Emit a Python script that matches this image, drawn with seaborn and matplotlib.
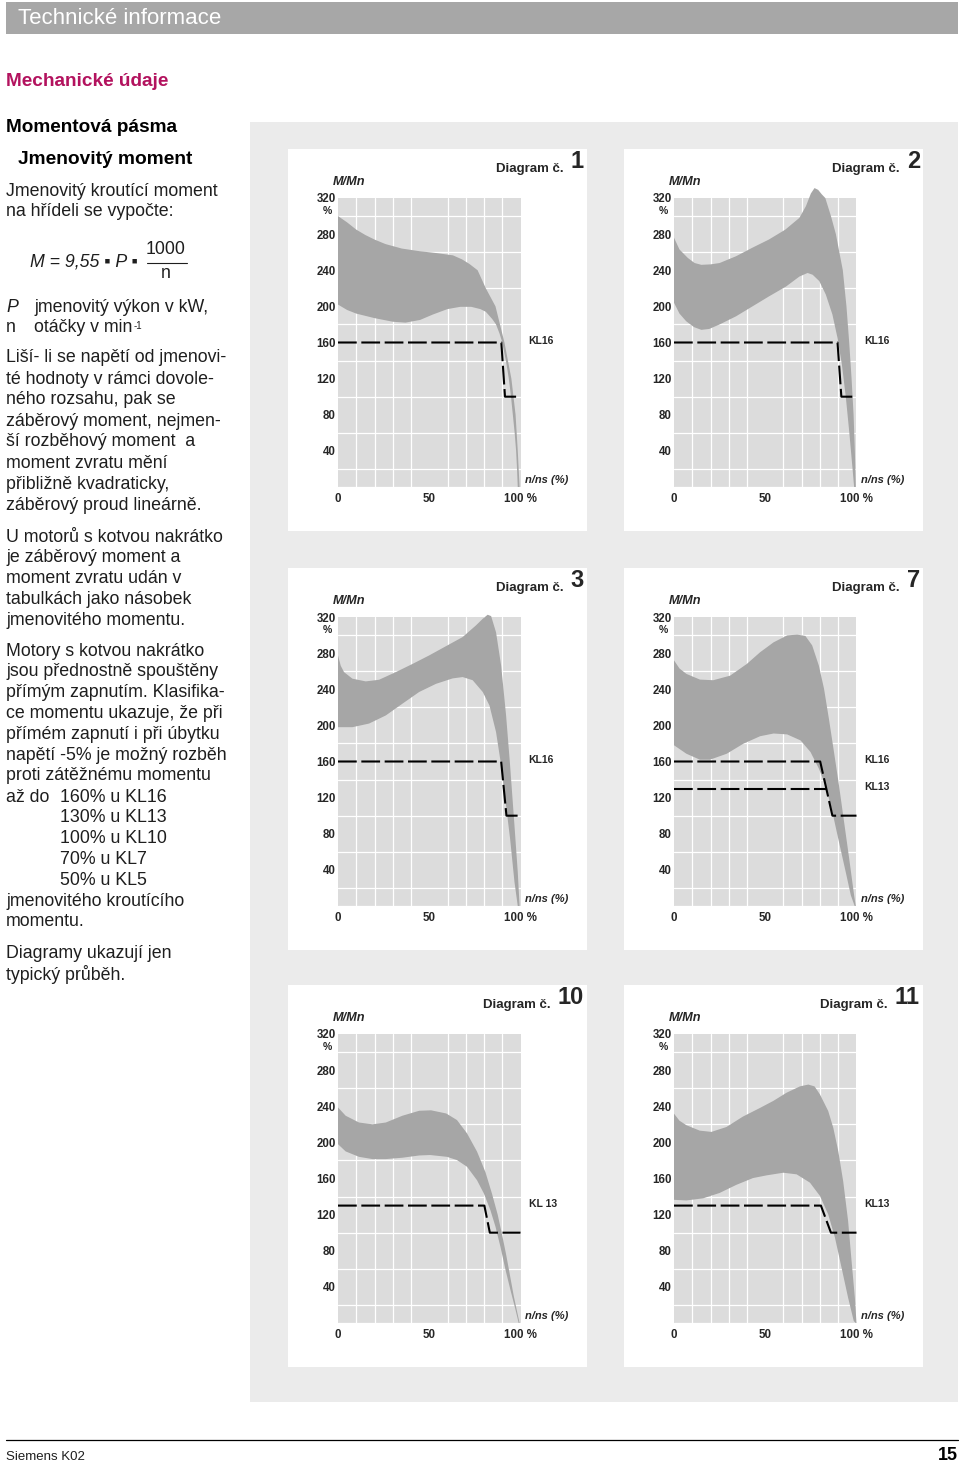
import numpy as np
import pandas as pd
import seaborn as sns
import matplotlib.pyplot as plt
from matplotlib.patches import Rectangle
from matplotlib.text import Annotation

sns.set_style('white')
plt.rcParams['font.family'] = ['Liberation Sans', 'DejaVu Sans']

# --- data (x = n/ns in %, y = M/Mn in %) ---
d1_up_x = [0, 5, 10, 15, 20, 26, 35, 45, 54, 63, 68, 72, 76.5, 81, 86.3, 91.2, 95, 97.3, 98.5, 99.5]
d1_up_y = [300, 293, 285, 279, 274, 269, 264, 261, 259, 256.5, 252, 247, 240, 220, 200, 160, 120, 80, 40, 0]
d1_lo_x = [0, 5, 10, 20, 30, 37, 45, 52, 60, 67, 73, 78, 81, 84.5, 86.6, 88.5, 90, 92, 93.6, 94.8, 95.8, 96.8, 97.6, 98.1, 98.5]
d1_lo_y = [202, 196, 192, 187, 183, 182, 185, 191, 197, 199.5, 199.5, 197, 194, 186, 180, 170, 160, 140, 120, 100, 80, 60, 40, 20, 0]

d2_up_x = [0, 3, 7.6, 11.3, 15, 20, 25, 34, 43, 52, 61, 68.7, 72.3, 75, 77, 79, 81, 82.9, 86, 88.7, 92.5, 94.5, 96, 97.3, 98.4, 99.1, 99.6]
d2_up_y = [276, 263, 253.6, 248, 246, 246.5, 248, 255.5, 265, 274, 285, 298, 311, 325, 331, 329, 324, 320, 300, 280, 240, 200, 160, 120, 80, 40, 0]
d2_lo_x = [0, 3, 6.7, 11, 15, 19.3, 25, 34, 43, 52, 61.4, 68.7, 73.2, 76, 79.6, 83.2, 86.8, 89.6, 92, 94.2, 96, 97.8, 98.7]
d2_lo_y = [204, 192, 183.5, 177, 174, 175, 180, 189, 200, 211, 222, 233, 237, 235, 228, 213, 191, 165, 135.5, 98.6, 61.6, 21, 0]

d3_up_x = [0, 1.5, 3.3, 7.9, 15.2, 22.5, 31.7, 40.8, 50, 59, 68.3, 75.6, 79.3, 82, 83.9, 86.6, 89.4, 92.1, 94.3, 96.7, 98.5, 99.5]
d3_up_y = [277.5, 266, 259, 251.7, 248.7, 250.5, 259, 268, 277.5, 287.5, 297.8, 310.7, 318, 322.5, 321, 303, 266, 211, 155.7, 89, 37.6, 0]
d3_lo_x = [0, 7.9, 17, 26.2, 35.3, 44.5, 53.7, 62.8, 68.3, 73.8, 79.3, 83, 86.6, 89.4, 92.1, 94.3, 96.7, 98.5]
d3_lo_y = [198, 198, 202, 211, 224, 237, 246, 252, 253.5, 250, 237, 222, 192.6, 155.7, 111, 74.5, 26.6, 0]

d7_up_x = [0, 3, 6.8, 14.2, 21.5, 30.7, 39.9, 47.2, 54.6, 62, 67.5, 72, 75.7, 79.4, 82.2, 84.9, 87.7, 90.4, 93.2, 96, 98.7, 99.6]
d7_up_y = [272, 263, 257, 250.7, 250, 255, 268, 281, 292, 299.6, 300.5, 299, 288.6, 266, 240.6, 207, 170, 133.6, 93, 52.4, 11.8, 0]
d7_lo_x = [0, 6.8, 14.2, 19.7, 28.9, 38, 47.2, 54.6, 62, 69.3, 74.8, 79.4, 83, 86.8, 90.4, 94.1, 96.9, 99]
d7_lo_y = [178, 168.6, 162, 162, 168.6, 179.7, 188, 191, 190, 183.4, 170.5, 152, 133.6, 104, 70.8, 37.6, 11.8, 0]

d10_up_x = [0, 4.2, 11.5, 18.9, 26.2, 35.3, 44.5, 51, 59.3, 65.2, 70.7, 76.2, 80.8, 84.4, 87.5, 90, 92.2, 94.3, 96.3, 98.2, 99.5]
d10_up_y = [238.7, 229.5, 222, 220, 222, 229.5, 235, 235.5, 232, 224.7, 210, 189.7, 167, 143, 120, 97, 75, 52, 30, 12, 0]
d10_lo_x = [0, 4.2, 11.5, 18.9, 26.2, 35.3, 44.5, 50.5, 59.7, 65.2, 70.7, 76.2, 79.9, 83.5, 86.3, 89, 91.8, 94.5, 97.3, 99]
d10_lo_y = [198, 190, 184, 181.5, 181.5, 183, 185.5, 186, 184, 180.4, 173, 158, 143.5, 125, 106.6, 84.5, 58.7, 36.5, 14.4, 0]

d11_up_x = [0, 3, 6.8, 14.1, 20.5, 28.7, 37.8, 47, 54.5, 61.7, 69, 73.6, 77, 80, 84.5, 87.3, 90, 92.7, 95.4, 97.3, 99.1, 100]
d11_up_y = [231.8, 224, 219, 213, 211.6, 217, 228.6, 238, 246, 255, 262, 264, 262, 253, 234.7, 216, 190.4, 157, 113, 68.6, 28, 0]
d11_lo_x = [0, 6.8, 15.9, 25, 34.2, 43.3, 50.8, 59.9, 67.2, 74.5, 80, 84.5, 88.2, 91.8, 95.4, 98.5, 99.6]
d11_lo_y = [136.4, 135.7, 138, 144, 153, 160.5, 163.5, 166.4, 164.6, 155.4, 140.6, 120.3, 94.5, 61.3, 28, 2.2, 0]

# torque class limits (dashed lines)
d1_kl16_x = [0, 89.5, 91.5, 100]
d2_kl16_x = [0, 89.6, 91.7, 100]
d3_kl16_x = [0, 89.4, 92.3, 100]
d7_kl16_x = [0, 80.1, 86.8, 100]
kl16_y = [160, 160, 100, 100]
d7_kl13_x = [0, 83.4]
d7_kl13_y = [130, 130]
d10_kl13_x = [0, 80.2, 83.2, 100]
d11_kl13_x = [0, 80.5, 86, 100]
kl13_y = [130, 130, 100, 100]

y_ticks = [40, 80, 120, 160, 200, 240, 280, 320]
y_labels = ['40', '80', '120', '160', '200', '240', '280', '320']
x_ticks = [0, 50, 100]
x_labels = ['0', '50', '100 %']

diagrams = [
    ('1', d1_up_x, d1_up_y, d1_lo_x, d1_lo_y, [('KL16', d1_kl16_x, kl16_y)]),
    ('2', d2_up_x, d2_up_y, d2_lo_x, d2_lo_y, [('KL16', d2_kl16_x, kl16_y)]),
    ('3', d3_up_x, d3_up_y, d3_lo_x, d3_lo_y, [('KL16', d3_kl16_x, kl16_y)]),
    ('7', d7_up_x, d7_up_y, d7_lo_x, d7_lo_y, [('KL16', d7_kl16_x, kl16_y), ('KL13', d7_kl13_x, d7_kl13_y)]),
    ('10', d10_up_x, d10_up_y, d10_lo_x, d10_lo_y, [('KL 13', d10_kl13_x, kl13_y)]),
    ('11', d11_up_x, d11_up_y, d11_lo_x, d11_lo_y, [('KL13', d11_kl13_x, kl13_y)]),
]

# --- page ---
W, H = 960, 1465
fig = plt.figure(figsize=(W / 100, H / 100), dpi=100)
TXT = '#1e1e1e'


def box(x0, y0, x1, y1, color):
    fig.add_artist(Rectangle((x0 / W, 1 - y1 / H), (x1 - x0) / W, (y1 - y0) / H,
                             transform=fig.transFigure, color=color, lw=0, zorder=-2))


def put(x, y, s, **kw):
    kw.setdefault('va', 'center')
    kw.setdefault('color', TXT)
    return fig.text(x / W, 1 - y / H, s, **kw)


box(6, 2, 958, 34, '#a7a7a7')
put(18, 18, 'Technické informace', fontsize=16, color='white')
put(6, 81, 'Mechanické údaje', fontsize=13.7, fontweight='bold', color='#b3125e')
put(6, 128, 'Momentová pásma', fontsize=13.7, fontweight='bold', color='black')
put(18, 160, 'Jmenovitý moment', fontsize=13.8, fontweight='bold', color='black')

fs = 12.8
lines1 = ['Jmenovitý kroutící moment', 'na hřídeli se vypočte:']
lines2 = ['Liší- li se napětí od jmenovi-', 'té hodnoty v rámci dovole-', 'ného rozsahu, pak se',
          'záběrový moment, nejmen-', 'ší rozběhový moment  a', 'moment zvratu mění',
          'přibližně kvadraticky,', 'záběrový proud lineárně.']
lines3 = ['U motorů s kotvou nakrátko', 'je záběrový moment a', 'moment zvratu udán v',
          'tabulkách jako násobek', 'jmenovitého momentu.']
lines4 = ['Motory s kotvou nakrátko', 'jsou přednostně spouštěny', 'přímým zapnutím. Klasifika-',
          'ce momentu ukazuje, že při', 'přímém zapnutí i při úbytku', 'napětí -5% je možný rozběh',
          'proti zátěžnému momentu']
kl_lines = ['160% u KL16', '130% u KL13', '100% u KL10', '70% u KL7', '50% u KL5']
lines5 = ['jmenovitého kroutícího', 'momentu.']
lines6 = ['Diagramy ukazují jen', 'typický průběh.']

for lines, y0, step in [(lines1, 191, 21), (lines2, 358, 21), (lines3, 537, 20.8), (lines4, 651, 20.8),
                        (lines5, 901, 20.5), (lines6, 953, 21)]:
    for i, s in enumerate(lines):
        put(6, y0 + i * step, s, fontsize=fs)
put(6, 797, 'až do', fontsize=fs)
for i, s in enumerate(kl_lines):
    put(60, 797 + i * 20.75, s, fontsize=fs)

# formula
put(30, 262, 'M = 9,55 ▪ P ▪', fontsize=fs, style='italic')
put(166, 250, '1000', fontsize=fs, ha='center')
fig.add_artist(plt.Line2D([147 / W, 187 / W], [1 - 263 / H, 1 - 263 / H], color=TXT, lw=0.8))
put(166, 273, 'n', fontsize=fs, ha='center')
put(6, 307, 'P', fontsize=fs, style='italic')
put(34, 307, 'jmenovitý výkon v kW,', fontsize=fs)
put(6, 328, 'n', fontsize=fs)
t = put(34, 328, 'otáčky v min', fontsize=fs)
fig.add_artist(Annotation('-1', xy=(1, 0.92), xycoords=t, xytext=(0.5, 0), textcoords='offset points',
                          fontsize=7, va='top', ha='left', color=TXT))

# footer
fig.add_artist(plt.Line2D([6 / W, 958 / W], [1 - 1440 / H, 1 - 1440 / H], color='black', lw=0.9))
put(6, 1457, 'Siemens K02', fontsize=9.5)
put(958, 1456, '15', fontsize=13, fontweight='bold', ha='right', color='black')

# diagram area
box(250, 122, 958, 1402, '#ebebeb')
col_x = [338, 674]
row_y = [198, 617, 1034]
aw, ah = 182.5, 289

for k, (num, ux, uy, lx, ly, kls) in enumerate(diagrams):
    c, r = k % 2, k // 2
    ax0, ay0 = col_x[c], row_y[r]
    box(ax0 - 50, ay0 - 49, ax0 + 249, ay0 + 333, 'white')
    ax = fig.add_axes([ax0 / W, 1 - (ay0 + ah) / H, aw / W, ah / H])
    ax.set_facecolor('#dcdcdc')
    ax.set_xlim(0, 100)
    ax.set_ylim(0, 320)
    ax.set_axisbelow(True)
    ax.set_xticks(np.arange(0, 101, 10), minor=True)
    ax.set_yticks(np.arange(0, 321, 20), minor=True)
    ax.grid(which='minor', color='white', lw=0.9)
    for sp in ax.spines.values():
        sp.set_visible(False)

    # torque band between upper and lower edge
    band = pd.DataFrame({'x': list(ux) + list(lx)[::-1], 'y': list(uy) + list(ly)[::-1]})
    ax.fill(band['x'], band['y'], color='#a6a6a6', lw=0, clip_on=False, zorder=2)

    for lab, kx, ky in kls:
        sns.lineplot(x=kx, y=ky, ax=ax, color='black', linewidth=1.5, sort=False,
                     estimator=None, linestyle=(0, (9, 2.2)), zorder=3, clip_on=False)
        ax.text(104.5, ky[0] + 2, lab, fontsize=7.5, fontweight='bold', va='center', ha='left')

    ax.set_yticks(y_ticks, y_labels)
    ax.set_xticks(x_ticks, x_labels)
    ax.tick_params(axis='both', length=0, labelsize=8.3)
    ax.tick_params(axis='y', pad=1.5)
    ax.tick_params(axis='x', pad=4)
    for tl in ax.get_xticklabels() + ax.get_yticklabels():
        tl.set_fontweight('bold')
    ax.set_xlabel('')
    ax.set_ylabel('')
    ax.text(-6, 305.5, '%', fontsize=7.5, fontweight='bold', ha='center', va='center')
    ax.text(-2.7, 338, 'M/Mn', fontsize=9.2, fontweight='bold', style='italic', ha='left', va='center')
    ax.text(102.5, 8, 'n/ns (%)', fontsize=8, fontweight='bold', style='italic', ha='left', va='center')

    nt = ax.annotate(num, xy=((ax0 + 246) / W, 1 - (ay0 - 30) / H), xycoords='figure fraction',
                     fontsize=17, fontweight='bold', ha='right', va='baseline', annotation_clip=False)
    ax.annotate('Diagram č.', xy=(0, 0), xycoords=nt, xytext=(-5, 1), textcoords='offset points',
                fontsize=9.5, fontweight='bold', ha='right', va='baseline', annotation_clip=False)

fig.savefig('out.png', dpi=100)
